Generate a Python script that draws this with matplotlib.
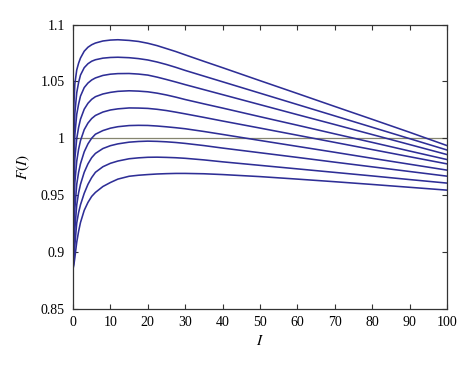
import numpy as np
import matplotlib
matplotlib.use("Agg")
import matplotlib.pyplot as plt

# ------------------------------------------------------------
# Data (F(I) for nine curves)
# ------------------------------------------------------------
I_vals = [0, 0.1, 0.25, 0.5, 1, 1.5, 2, 3, 4, 5, 6, 8, 10, 12, 15, 17.5, 20,
          22.5, 25, 27.5, 30, 35, 40, 50, 60, 70, 80, 90, 100]

F1 = [0.885, 0.995, 1.030, 1.048, 1.060, 1.066, 1.0705, 1.0765, 1.0800, 1.0822,
      1.0837, 1.0855, 1.0863, 1.0866, 1.0860, 1.0851, 1.0835, 1.0814, 1.0788,
      1.0762, 1.0733, 1.0676, 1.0620, 1.0506, 1.0393, 1.0279, 1.0166, 1.0052,
      0.9935]
F2 = [0.885, 0.965, 1.000, 1.022, 1.040, 1.049, 1.0555, 1.0620, 1.0655, 1.0677,
      1.0690, 1.0704, 1.0710, 1.0712, 1.0708, 1.0700, 1.0688, 1.0670, 1.0648,
      1.0623, 1.0596, 1.0546, 1.0496, 1.0396, 1.0296, 1.0196, 1.0096, 0.9996,
      0.9896]
F3 = [0.885, 0.945, 0.980, 1.003, 1.021, 1.030, 1.037, 1.0445, 1.0485, 1.0512,
      1.0530, 1.0552, 1.0563, 1.0568, 1.0569, 1.0564, 1.0555, 1.0537, 1.0516,
      1.0494, 1.0471, 1.0427, 1.0383, 1.0295, 1.0207, 1.0120, 1.0032, 0.9944,
      0.9856]
F4 = [0.885, 0.928, 0.958, 0.982, 0.9997, 1.0095, 1.0167, 1.0255, 1.0307, 1.0342,
      1.0365, 1.0389, 1.0403, 1.0412, 1.0417, 1.0414, 1.0408, 1.0396, 1.0380,
      1.0361, 1.0340, 1.0302, 1.0265, 1.0189, 1.0114, 1.0038, 0.9963, 0.9887,
      0.9812]
F5 = [0.885, 0.912, 0.937, 0.961, 0.9798, 0.9903, 0.9978, 1.0075, 1.0133, 1.0173,
      1.0200, 1.0230, 1.0248, 1.0258, 1.0266, 1.0265, 1.0262, 1.0254, 1.0243,
      1.0229, 1.0214, 1.0183, 1.0151, 1.0089, 1.0026, 0.9963, 0.9900, 0.9837,
      0.9774]
F6 = [0.885, 0.898, 0.916, 0.938, 0.9595, 0.9700, 0.9775, 0.9880, 0.9950, 1.0000,
      1.0035, 1.0067, 1.0088, 1.0101, 1.0111, 1.0113, 1.0112, 1.0107, 1.0100,
      1.0092, 1.0083, 1.0059, 1.0033, 0.9980, 0.9928, 0.9876, 0.9823, 0.9771,
      0.9719]
F7 = [0.885, 0.891, 0.902, 0.920, 0.9414, 0.9520, 0.9594, 0.9700, 0.9774, 0.9829,
      0.9866, 0.9909, 0.9934, 0.9950, 0.9965, 0.9971, 0.9974, 0.9972, 0.9968,
      0.9962, 0.9954, 0.9935, 0.9913, 0.9872, 0.9831, 0.9789, 0.9748, 0.9707,
      0.9666]
F8 = [0.885, 0.888, 0.894, 0.906, 0.9254, 0.9346, 0.9414, 0.9515, 0.9594, 0.9654,
      0.9700, 0.9749, 0.9779, 0.9799, 0.9819, 0.9827, 0.9832, 0.9833, 0.9831,
      0.9828, 0.9823, 0.9809, 0.9792, 0.9761, 0.9730, 0.9699, 0.9668, 0.9636,
      0.9605]
F9 = [0.885, 0.8865, 0.889, 0.895, 0.9085, 0.9180, 0.9258, 0.9365, 0.9435, 0.9488,
      0.9523, 0.9575, 0.9610, 0.9640, 0.9665, 0.9674, 0.9680, 0.9685, 0.9688,
      0.9690, 0.9690, 0.9687, 0.9680, 0.9662, 0.9640, 0.9617, 0.9593, 0.9568,
      0.9543]
curves = [F1, F2, F3, F4, F5, F6, F7, F8, F9]

ref_level = 1.0
x_ticks = [0, 10, 20, 30, 40, 50, 60, 70, 80, 90, 100]
y_ticks = [0.85, 0.9, 0.95, 1.0, 1.05, 1.1]
y_tick_labels = ["0.85", "0.9", "0.95", "1", "1.05", "1.1"]

# ------------------------------------------------------------
# Plot
# ------------------------------------------------------------
plt.rcParams["font.family"] = ["Liberation Serif", "DejaVu Serif"]
plt.rcParams["mathtext.fontset"] = "stix"

fig = plt.figure(figsize=(4.74, 3.69), dpi=100)
ax = fig.add_axes([0.154, 0.1634, 0.789, 0.7702])

ax.axhline(ref_level, color="#85856f", lw=0.9, zorder=1)
for F in curves:
    ax.plot(I_vals, F, color="#2e2e96", lw=1.15, zorder=2)

ax.set_xlim(0, 100)
ax.set_ylim(0.85, 1.1)
ax.set_xticks(x_ticks)
ax.set_yticks(y_ticks)
ax.set_yticklabels(y_tick_labels)
ax.tick_params(direction="in", top=True, right=True, length=3.5, width=0.8,
               labelsize=10, color="#333333")
ax.tick_params(axis="x", pad=5)
ax.tick_params(axis="y", pad=6)
for s in ax.spines.values():
    s.set_linewidth(0.9)
    s.set_color("#333333")

ax.set_xlabel(r"$I$", fontsize=11, labelpad=4)
ax.set_ylabel(r"$F(I)$", fontsize=11, labelpad=6)

fig.savefig("out.png", dpi=100)
